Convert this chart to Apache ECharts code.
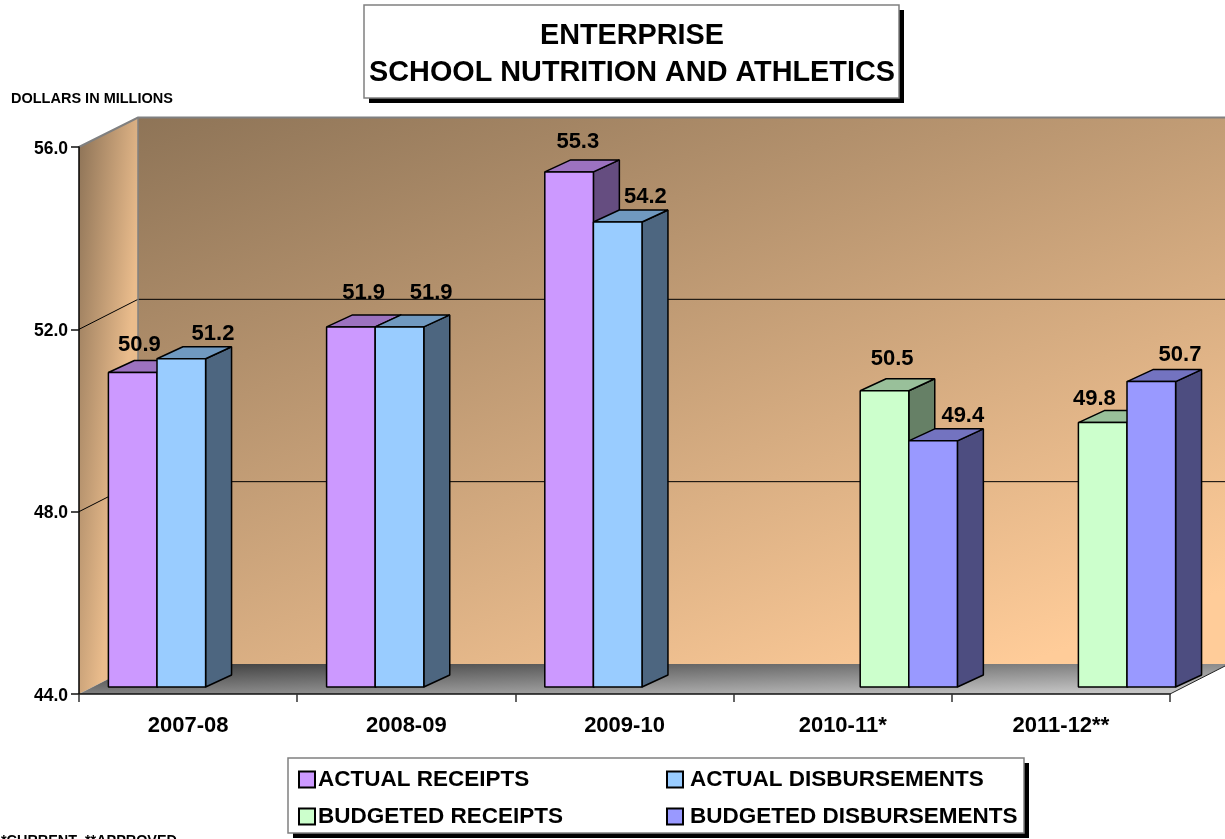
<!DOCTYPE html>
<html>
<head>
<meta charset="utf-8">
<style>html,body{margin:0;padding:0;background:#fff}#c{width:1225px;height:839px}</style>
<script src="https://cdn.jsdelivr.net/npm/echarts@6/dist/echarts.min.js"></script>
</head>
<body>
<div id="c"></div>
<script>
var categories = ['2007-08', '2008-09', '2009-10', '2010-11*', '2011-12**'];
var actualReceipts = [50.9, 51.9, 55.3, null, null];
var actualDisbursements = [51.2, 51.9, 54.2, null, null];
var budgetedReceipts = [null, null, null, 50.5, 49.8];
var budgetedDisbursements = [null, null, null, 49.4, 50.7];
var yTicks = [44, 48, 52, 56];

var FONT = '"Liberation Sans", Arial, sans-serif';
var DEPTH_X = 59, DEPTH_Y = 30;          // wall depth
var BAR_FRONT_DEPTH = 7 / 30, BAR_DEPTH = 12 / 30;
var BAR_W = 48.6, GROUP_INSET = 29.4;

// label nudges relative to each bar's top-left, per series then per category
var labelNudge = [
  [[31, -28], [37, -34], [33, -30], null, null],
  [[56, -25], [56, -34], [52, -25], null, null],
  [null, null, null, [32, -32], [16, -24]],
  [null, null, null, [54, -25], [53, -27]]
];

function wallsRender(params, api) {
  var o = api.coord([0, 44]);
  var t = api.coord([0, 56]);
  var band = api.size([1, 0])[0];
  var x0 = o[0] - band / 2, y0 = o[1], yT = t[1];
  var x1 = api.coord([4, 44])[0] + band / 2;
  var bx = x0 + DEPTH_X, by = y0 - DEPTH_Y, byT = yT - DEPTH_Y, bxR = x1 + DEPTH_X;
  var children = [];
  children.push({ type: 'polygon', shape: { points: [[bx, byT], [bxR, byT], [bxR, by], [bx, by]] },
    style: { fill: new echarts.graphic.LinearGradient(0, 0, 0.258, 1.405, [
      { offset: 0, color: '#8e7457' }, { offset: 1, color: '#ffcc99' }]) } });
  children.push({ type: 'polygon', shape: { points: [[x0, yT], [bx, byT], [bx, by], [x0, y0]] },
    style: { fill: new echarts.graphic.LinearGradient(0, 0, 1.17, 0.01, [
      { offset: 0, color: '#8c7256' }, { offset: 1, color: '#eabc8c' }]) } });
  children.push({ type: 'polygon', shape: { points: [[x0, y0], [bx, by], [bxR, by], [x1, y0]] },
    style: { fill: new echarts.graphic.LinearGradient(0, 0, 0.0016, 1.99, [
      { offset: 0, color: '#3a3a3a' }, { offset: 1, color: '#c4c4c4' }]) } });
  yTicks.forEach(function (v) {
    if (v === 44 || v === 56) return;
    var y = api.coord([0, v])[1];
    children.push({ type: 'polyline', shape: { points: [[x0, y], [bx, y - DEPTH_Y], [bxR, y - DEPTH_Y]] },
      style: { fill: null, stroke: '#000', lineWidth: 1 } });
  });
  children.push({ type: 'polyline', shape: { points: [[x0, yT], [bx, byT + 0.5], [bxR, byT + 0.5]] },
    style: { fill: null, stroke: '#808080', lineWidth: 2 } });
  children.push({ type: 'line', shape: { x1: bx, y1: byT, x2: bx, y2: by },
    style: { stroke: '#808080', lineWidth: 1.5 } });
  children.push({ type: 'line', shape: { x1: x1, y1: y0, x2: bxR, y2: by },
    style: { stroke: '#222', lineWidth: 1 } });
  return { type: 'group', children: children };
}

function barRenderer(slot, shades, seriesIdx) {
  return function (params, api) {
    var i = api.value(0), v = api.value(1);
    var band = api.size([1, 0])[0];
    var c = api.coord([i, v]), b = api.coord([i, 44]);
    var fy = DEPTH_Y * BAR_FRONT_DEPTH, dx = DEPTH_X * BAR_DEPTH * 1.1, dy = DEPTH_Y * BAR_DEPTH;
    var x = c[0] - band / 2 + GROUP_INSET + slot * BAR_W;
    var top = c[1] - fy, bot = b[1] - fy, r = x + BAR_W;
    var edge = { stroke: '#000', lineWidth: 1.5, lineJoin: 'bevel' };
    var n = labelNudge[seriesIdx][i] || [35, -28];
    return { type: 'group', children: [
      { type: 'polygon', shape: { points: [[r, top], [r + dx, top - dy], [r + dx, bot - dy], [r, bot]] },
        style: Object.assign({ fill: shades[2] }, edge) },
      { type: 'polygon', shape: { points: [[x, top], [x + dx, top - dy], [r + dx, top - dy], [r, top]] },
        style: Object.assign({ fill: shades[1] }, edge) },
      { type: 'rect', shape: { x: x, y: top, width: BAR_W, height: bot - top },
        style: Object.assign({ fill: shades[0] }, edge) },
      { type: 'text', z2: 50, style: { x: x + n[0], y: top + n[1], text: v.toFixed(1), fill: '#000',
        font: 'bold 22px ' + FONT, textAlign: 'center', textVerticalAlign: 'middle' } }
    ] };
  };
}

function toData(arr) {
  return arr.map(function (v, i) { return v == null ? null : [i, v]; })
            .filter(function (d) { return d; });
}
function barSeries(name, arr, slot, shades, idx) {
  return { type: 'custom', name: name, coordinateSystem: 'cartesian2d', z: 3 + idx,
    renderItem: barRenderer(slot, shades, idx), data: toData(arr), encode: { x: 0, y: 1 },
    itemStyle: { color: shades[0], borderColor: '#000', borderWidth: 1.5 }, silent: true };
}
var legendTextL = { fontFamily: FONT, fontWeight: 'bold', fontSize: 22.5, color: '#000', padding: [0, 0, 0, -2] };
var legendTextR = { fontFamily: FONT, fontWeight: 'bold', fontSize: 22.5, color: '#000', padding: [0, 0, 0, 2] };

var chart = echarts.init(document.getElementById('c'), null, { renderer: 'canvas' });
chart.setOption({
  animation: false,
  backgroundColor: '#fff',
  title: { text: 'ENTERPRISE\nSCHOOL NUTRITION AND ATHLETICS', left: 627, top: 13, textAlign: 'center',
    textStyle: { fontFamily: FONT, fontWeight: 'bold', fontSize: 28.8, lineHeight: 37, color: '#000' } },
  grid: { left: 79, right: 55, top: 147, bottom: 145 },
  xAxis: { type: 'category', data: categories, z: 8,
    axisLine: { lineStyle: { color: '#111', width: 1.5 } },
    axisTick: { show: true, alignWithLabel: false, length: 8, lineStyle: { color: '#333', width: 1.5 } },
    axisLabel: { fontFamily: FONT, fontWeight: 'bold', fontSize: 22, color: '#000', margin: 21, interval: 0 } },
  yAxis: { type: 'value', min: 44, max: 56, interval: 4, z: 8,
    axisLine: { show: true, lineStyle: { color: '#000', width: 1.5 } },
    axisTick: { show: true, length: 8, lineStyle: { color: '#111', width: 1.5 } },
    splitLine: { show: false },
    axisLabel: { fontFamily: FONT, fontWeight: 'bold', fontSize: 17.5, color: '#000', margin: 11,
      verticalAlign: 'top', lineHeight: 4,
      formatter: function (v) { return v.toFixed(1); } } },
  legend: [
    { data: ['ACTUAL RECEIPTS', 'BUDGETED RECEIPTS'], orient: 'vertical', left: 298, top: 768, height: 70, padding: 0,
      itemWidth: 16, itemHeight: 16, itemGap: 14, icon: 'rect', selectedMode: false, textStyle: legendTextL },
    { data: ['ACTUAL DISBURSEMENTS', 'BUDGETED DISBURSEMENTS'], orient: 'vertical', left: 666, top: 768, height: 70, padding: 0,
      itemWidth: 16, itemHeight: 16, itemGap: 14, icon: 'rect', selectedMode: false, textStyle: legendTextR }
  ],
  graphic: [
    { type: 'rect', z: -1, shape: { x: 369, y: 10, width: 535, height: 93 }, style: { fill: '#000' } },
    { type: 'rect', z: 0, shape: { x: 364, y: 5, width: 535, height: 93 }, style: { fill: '#fff', stroke: '#808080', lineWidth: 1.5 } },
    { type: 'rect', z: -1, shape: { x: 293, y: 763, width: 736, height: 75 }, style: { fill: '#000' } },
    { type: 'rect', z: 0, shape: { x: 288, y: 758, width: 736, height: 75 }, style: { fill: '#fff', stroke: '#808080', lineWidth: 1.5 } },
    { type: 'text', z: 5, style: { x: 11, y: 98.5, text: 'DOLLARS IN MILLIONS', fill: '#000', font: 'bold 14.5px ' + FONT, textVerticalAlign: 'middle' } },
    { type: 'text', z: 5, style: { x: 1, y: 841, text: '*CURRENT  **APPROVED', fill: '#000', font: 'bold 14.4px ' + FONT, textVerticalAlign: 'middle' } }
  ],
  series: [
    { type: 'custom', name: 'walls', coordinateSystem: 'cartesian2d', z: 1, silent: true,
      renderItem: wallsRender, data: [[0, 44]], encode: { x: 0, y: 1 } },
    barSeries('ACTUAL RECEIPTS', actualReceipts, 0, ['#cc99ff', '#9c72c0', '#654d80'], 0),
    barSeries('ACTUAL DISBURSEMENTS', actualDisbursements, 1, ['#99ccff', '#7099c0', '#4d6680'], 1),
    barSeries('BUDGETED RECEIPTS', budgetedReceipts, 2, ['#ccffcc', '#99c09a', '#668066'], 2),
    barSeries('BUDGETED DISBURSEMENTS', budgetedDisbursements, 3, ['#9999ff', '#7373c0', '#4d4d80'], 3)
  ]
});
</script>
</body>
</html>
